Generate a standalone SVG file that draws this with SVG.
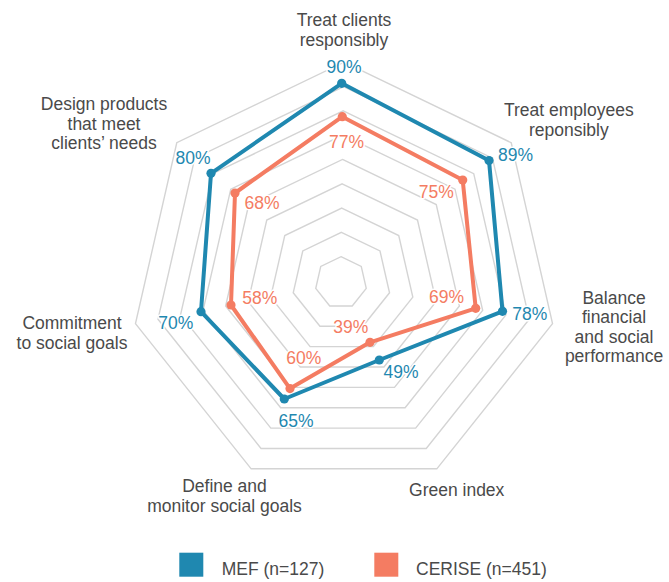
<svg xmlns="http://www.w3.org/2000/svg" width="669" height="582" viewBox="0 0 669 582">
<style>
.ring{fill:none;stroke:#d4d4d4;stroke-width:1.4;stroke-linejoin:miter}
.lbl{font-family:"Liberation Sans",Arial,sans-serif;font-size:17.5px;fill:#4a4a4a;text-anchor:middle}
.pct{font-family:"Liberation Sans",Arial,sans-serif;font-size:17.5px;text-anchor:middle;paint-order:stroke;stroke:#fff;stroke-width:3px;stroke-linejoin:round}
.mef{fill:#1f88b0}
.cer{fill:#f47c62}
.lineM{fill:none;stroke:#1f88b0;stroke-width:4;stroke-linejoin:round}
.lineC{fill:none;stroke:#f47c62;stroke-width:4;stroke-linejoin:round}
.leg{font-family:"Liberation Sans",Arial,sans-serif;font-size:17.5px;fill:#4a4a4a}
</style>
<rect width="669" height="582" fill="#ffffff"/>
<g id="grid">
<polygon class="ring" points="341,256.7 361.25,266.45 366.25,288.36 352.24,305.94 329.76,305.94 315.75,288.36 320.75,266.45"/>
<polygon class="ring" points="341.38,232.39 380,250.99 389.54,292.78 362.81,326.3 319.95,326.3 293.22,292.78 302.76,250.99"/>
<polygon class="ring" points="341.75,208.08 398.74,235.53 412.82,297.2 373.38,346.66 310.12,346.66 270.68,297.2 284.76,235.53"/>
<polygon class="ring" points="342.13,183.76 417.5,220.05 436.11,301.61 383.96,367.02 300.3,367.02 248.15,301.61 266.76,220.05"/>
<polygon class="ring" points="342.5,159.45 436.24,204.59 459.39,306.03 394.52,387.38 290.48,387.38 225.61,306.03 248.76,204.59"/>
<polygon class="ring" points="342.88,135.14 454.99,189.13 482.68,310.45 405.1,407.74 280.66,407.74 203.08,310.45 230.77,189.13"/>
<polygon class="ring" points="343.25,110.83 473.73,173.67 505.96,314.87 415.67,428.11 270.83,428.11 180.54,314.87 212.77,173.67"/>
<polygon class="ring" points="343.63,86.51 492.48,158.2 529.25,319.27 426.24,448.46 261.02,448.46 158,319.27 194.78,158.2"/>
<polygon class="ring" points="344,62.2 511.23,142.73 552.53,323.69 436.81,468.82 251.19,468.82 135.47,323.69 176.77,142.73"/>
</g>
<g id="series-cerise">
<polygon class="lineC" points="342.3,116.7 462.7,180 475.7,308.3 370,342.3 290,388.6 231,305 235,193"/>
<g class="cer">
<circle cx="342.3" cy="116.7" r="4.6"/><circle cx="462.7" cy="180" r="4.6"/><circle cx="475.7" cy="308.3" r="4.6"/><circle cx="370" cy="342.3" r="4.6"/><circle cx="290" cy="388.6" r="4.6"/><circle cx="231" cy="305" r="4.6"/><circle cx="235" cy="193" r="4.6"/>
</g>
</g>
<g id="series-mef">
<polygon class="lineM" points="341.7,83.3 489,160.5 502.5,311.3 379.3,360 284.3,399 201,311.7 211,173.3"/>
<g class="mef">
<circle cx="341.7" cy="83.3" r="4.6"/><circle cx="489" cy="160.5" r="4.6"/><circle cx="502.5" cy="311.3" r="4.6"/><circle cx="379.3" cy="360" r="4.6"/><circle cx="284.3" cy="399" r="4.6"/><circle cx="201" cy="311.7" r="4.6"/><circle cx="211" cy="173.3" r="4.6"/>
</g>
</g>
<g id="values">
<text class="pct mef" x="344" y="72.7">90%</text>
<text class="pct cer" x="346.5" y="147.7">77%</text>
<text class="pct mef" x="515.5" y="161">89%</text>
<text class="pct cer" x="436.3" y="198.3">75%</text>
<text class="pct mef" x="529.7" y="320">78%</text>
<text class="pct cer" x="446.5" y="302.7">69%</text>
<text class="pct mef" x="401" y="378.3">49%</text>
<text class="pct cer" x="350.7" y="333.3">39%</text>
<text class="pct mef" x="296" y="426.7">65%</text>
<text class="pct cer" x="303.8" y="364.3">60%</text>
<text class="pct mef" x="175.8" y="329.3">70%</text>
<text class="pct cer" x="259.7" y="304.3">58%</text>
<text class="pct mef" x="193" y="164">80%</text>
<text class="pct cer" x="262" y="209.3">68%</text>
</g>
<g id="axis-treat-clients"><text class="lbl" x="344" y="26.4">Treat clients<tspan x="344" y="46">responsibly</tspan></text></g>
<g id="axis-treat-employees"><text class="lbl" x="568.8" y="116.4">Treat employees<tspan x="568.8" y="136">reponsibly</tspan></text></g>
<g id="axis-balance"><text class="lbl" x="614" y="303.5">Balance<tspan x="614" y="323.1">financial</tspan><tspan x="614" y="342.7">and social</tspan><tspan x="614" y="362.3">performance</tspan></text></g>
<g id="axis-green"><text class="lbl" x="456.7" y="496">Green index</text></g>
<g id="axis-define"><text class="lbl" x="224.5" y="492">Define and<tspan x="224.5" y="511.6">monitor social goals</tspan></text></g>
<g id="axis-commitment"><text class="lbl" x="72" y="329.4">Commitment<tspan x="72" y="349">to social goals</tspan></text></g>
<g id="axis-design"><text class="lbl" x="104" y="109.9">Design products<tspan x="104" y="129.5">that meet</tspan><tspan x="104" y="149.1">clients’ needs</tspan></text></g>
<g id="legend">
<rect x="179.3" y="552.7" width="24" height="24" fill="#1f88b0"/>
<text class="leg" x="221.7" y="575">MEF (n=127)</text>
<rect x="374.3" y="552.7" width="24" height="24" fill="#f47c62"/>
<text class="leg" x="416" y="575">CERISE (n=451)</text>
</g>
</svg>
